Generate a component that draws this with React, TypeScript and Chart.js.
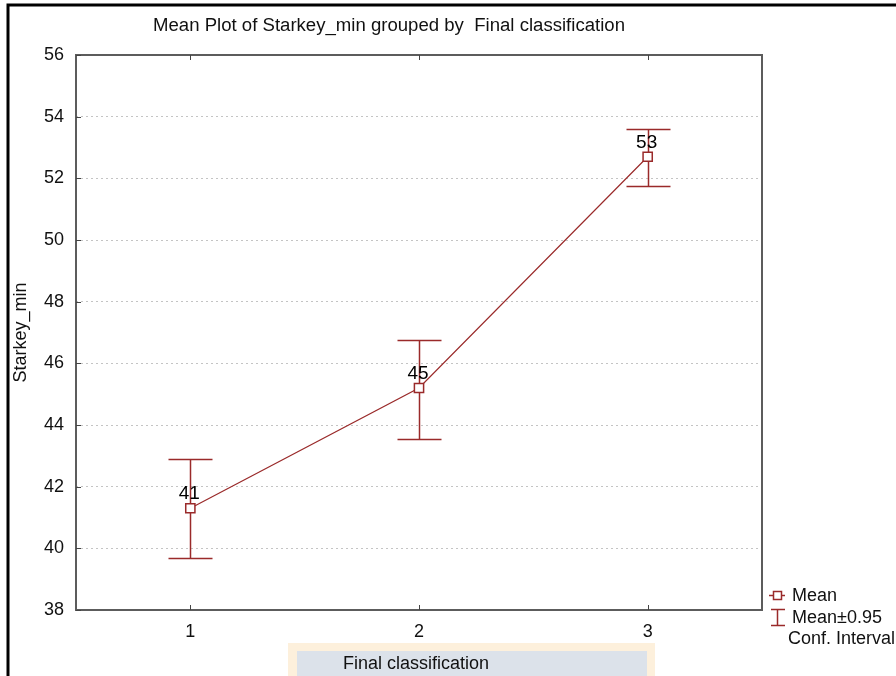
import React, { useEffect, useRef } from 'react';
import { Chart, registerables } from 'chart.js';

Chart.register(...registerables);

const categories = ['1', '2', '3'];
const means = [41.3, 45.2, 52.7];
const ciLower = [39.7, 43.55, 51.75];
const ciUpper = [42.9, 46.75, 53.6];
const meanLabels = ['41', '45', '53'];
const yMin = 38;
const yMax = 56;
const yStep = 2;
const titleText = 'Mean Plot of Starkey_min grouped by  Final classification';
const yTitle = 'Starkey_min';
const xTitle = 'Final classification';
const legendLabels = ['Mean', 'Mean\u00b10.95', 'Conf. Interval'];

const RED = '#9a2a2a';
const FONT = "'Liberation Sans', Arial, sans-serif";

const customPlugin = {
  id: 'customPlugin',
  beforeDatasetsDraw(chart: any) {
    const { ctx, scales } = chart;
    const x = scales.x;
    const y = scales.y;
    ctx.save();
    ctx.strokeStyle = RED;
    ctx.lineWidth = 1.5;
    categories.forEach((_, i) => {
      const px = Math.round(x.getPixelForValue(i)) + 0.5;
      const yu = Math.round(y.getPixelForValue(ciUpper[i])) + 0.5;
      const yl = Math.round(y.getPixelForValue(ciLower[i])) + 0.5;
      ctx.beginPath();
      ctx.moveTo(px, yu);
      ctx.lineTo(px, yl);
      ctx.moveTo(px - 22, yu);
      ctx.lineTo(px + 22, yu);
      ctx.moveTo(px - 22, yl);
      ctx.lineTo(px + 22, yl);
      ctx.stroke();
    });
    ctx.restore();
  },
  afterDatasetsDraw(chart: any) {
    const { ctx, scales } = chart;
    const x = scales.x;
    const y = scales.y;
    ctx.save();
    ctx.fillStyle = '#000';
    ctx.font = `19px ${FONT}`;
    ctx.textAlign = 'center';
    ctx.textBaseline = 'middle';
    categories.forEach((_, i) => {
      const px = x.getPixelForValue(i);
      const py = y.getPixelForValue(means[i]);
      ctx.fillText(meanLabels[i], px - 1, py - 14);
    });
    ctx.restore();
  },
  afterDraw(chart: any) {
    const { ctx, chartArea: a, scales } = chart;
    const x = scales.x;
    const y = scales.y;
    ctx.save();
    // plot frame
    ctx.strokeStyle = '#5c5c5c';
    ctx.lineWidth = 2;
    ctx.strokeRect(a.left, a.top, a.right - a.left, a.bottom - a.top);
    // inward ticks
    ctx.lineWidth = 1;
    ctx.strokeStyle = '#444';
    ctx.beginPath();
    for (let v = yMin; v <= yMax; v += yStep) {
      const py = Math.round(y.getPixelForValue(v)) + 0.5;
      ctx.moveTo(a.left, py);
      ctx.lineTo(a.left + 5, py);
    }
    categories.forEach((_, i) => {
      const px = Math.round(x.getPixelForValue(i)) + 0.5;
      ctx.moveTo(px, a.bottom);
      ctx.lineTo(px, a.bottom - 5);
      ctx.moveTo(px, a.top);
      ctx.lineTo(px, a.top + 5);
    });
    ctx.stroke();

    // title
    ctx.fillStyle = '#111';
    ctx.font = `18px ${FONT}`;
    ctx.textBaseline = 'middle';
    ctx.textAlign = 'center';
    const tw = ctx.measureText(titleText).width;
    const sx = 472 / tw;
    ctx.save();
    ctx.translate(389, 26);
    ctx.scale(sx, 1);
    ctx.fillText(titleText, 0, 0);
    ctx.restore();

    // y title
    ctx.save();
    ctx.translate(21, (a.top + a.bottom) / 2);
    ctx.rotate(-Math.PI / 2);
    ctx.textAlign = 'center';
    ctx.textBaseline = 'middle';
    ctx.fillText(yTitle, 0, 0);
    ctx.restore();

    // x title box
    ctx.fillStyle = '#fdf0dc';
    ctx.fillRect(288, 643, 367, 40);
    ctx.fillStyle = '#dce2ea';
    ctx.fillRect(297, 651, 350, 40);
    ctx.fillStyle = '#111';
    ctx.textAlign = 'left';
    ctx.textBaseline = 'middle';
    ctx.fillText(xTitle, 343, 664);

    // legend
    ctx.strokeStyle = RED;
    ctx.lineWidth = 1.5;
    ctx.beginPath();
    ctx.moveTo(769, 595.5);
    ctx.lineTo(785, 595.5);
    ctx.stroke();
    ctx.fillStyle = '#fff';
    ctx.fillRect(773.5, 591.5, 8, 8);
    ctx.strokeRect(773.5, 591.5, 8, 8);
    ctx.beginPath();
    ctx.moveTo(777.5, 609);
    ctx.lineTo(777.5, 626);
    ctx.moveTo(771, 609.5);
    ctx.lineTo(785, 609.5);
    ctx.moveTo(771, 625.5);
    ctx.lineTo(785, 625.5);
    ctx.stroke();
    ctx.fillStyle = '#111';
    ctx.fillText(legendLabels[0], 792, 596);
    ctx.fillText(legendLabels[1], 792, 618);
    ctx.fillText(legendLabels[2], 788, 639);

    // outer frame
    ctx.strokeStyle = '#000';
    ctx.lineWidth = 3;
    ctx.beginPath();
    ctx.moveTo(8, 680);
    ctx.lineTo(8, 5);
    ctx.lineTo(900, 5);
    ctx.stroke();
    ctx.restore();
  },
};

export default function App() {
  const canvasRef = useRef<HTMLCanvasElement | null>(null);

  useEffect(() => {
    document.body.style.margin = '0';
    const canvas = canvasRef.current;
    if (!canvas) return;
    const chart = new Chart(canvas, {
      type: 'line',
      data: {
        labels: categories,
        datasets: [
          {
            data: means,
            borderColor: RED,
            borderWidth: 1.2,
            pointStyle: 'rect',
            pointRadius: 6.5,
            pointBackgroundColor: '#fff',
            pointBorderColor: RED,
            pointBorderWidth: 1.5,
            tension: 0,
          },
        ],
      },
      options: {
        animation: false,
        responsive: false,
        devicePixelRatio: 1,
        layout: { padding: { left: 0, top: 55, right: 134, bottom: 0 } },
        plugins: {
          legend: { display: false },
          title: { display: false },
          tooltip: { enabled: false },
        },
        scales: {
          x: {
            type: 'category',
            offset: true,
            grid: { display: false, drawTicks: false },
            border: { display: false },
            ticks: {
              color: '#111',
              font: { family: FONT, size: 18 },
              padding: 11,
              maxRotation: 0,
            },
            afterFit: (scale: any) => {
              scale.height = 66;
            },
          },
          y: {
            min: yMin,
            max: yMax,
            grid: { color: '#c4c4c4', lineWidth: 1, drawTicks: false },
            border: { display: false, dash: [2, 3] },
            ticks: {
              stepSize: yStep,
              color: '#111',
              font: { family: FONT, size: 18 },
              padding: 12,
            },
            afterFit: (scale: any) => {
              scale.width = 76;
            },
          },
        },
      },
      plugins: [customPlugin],
    });
    return () => chart.destroy();
  }, []);

  return <canvas ref={canvasRef} width={896} height={676} style={{ display: 'block' }} />;
}
